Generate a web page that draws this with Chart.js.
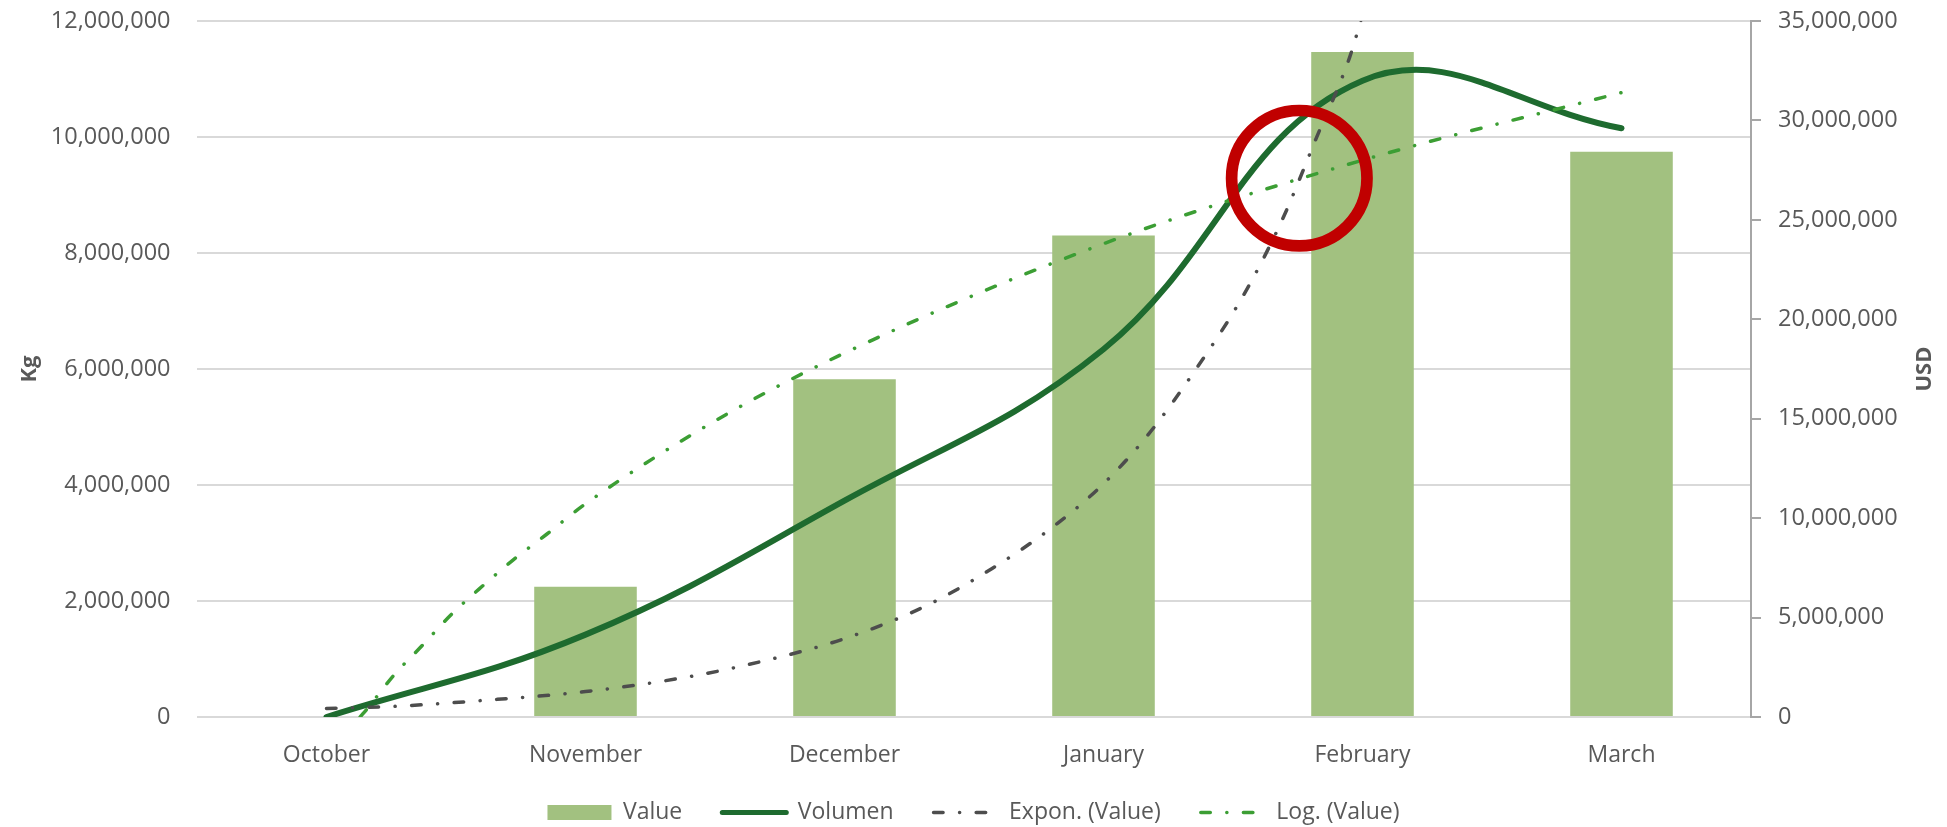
<!DOCTYPE html>
<html>
<head>
<meta charset="utf-8">
<script src="https://cdn.jsdelivr.net/npm/chart.js@4.4.1/dist/chart.umd.min.js"></script>
<style>
html, body { margin: 0; padding: 0; background: #ffffff; }
#wrap { width: 1947px; height: 827px; }
</style>
</head>
<body>
<div id="wrap"><canvas id="c" width="1947" height="827"></canvas></div>
<script>
// ---- data ----
const categories = ['October', 'November', 'December', 'January', 'February', 'March'];
const valueUSD   = [0, 6550000, 16980000, 24210000, 33440000, 28420000];
const volumenKg  = [0, 1420000, 3730000, 6340000, 10970000, 10150000];

// trendlines (position along the category axis, value in USD)
const exponPos = [0, 0.27, 0.6, 1, 1.41, 1.72, 2, 2.31, 2.57, 2.82, 3, 3.17, 3.36, 3.54, 3.69, 3.82, 3.95, 4.0];
const exponUSD = [430000, 540000, 830000, 1280000, 2050000, 2920000, 3940000, 5560000, 7470000, 9710000,
                  11730000, 14160000, 17550000, 21200000, 25000000, 29060000, 33160000, 35300000];
const logPos = [0.13, 0.16, 0.26, 0.37, 0.48, 0.6, 0.72, 0.85, 1, 1.5, 2, 3, 4, 5];
const logUSD = [0, 460000, 2100000, 3600000, 5130000, 6560000, 7890000, 9190000, 10720000,
                14890000, 18300000, 23800000, 28000000, 31400000];

// highlight ring (category position, Kg value)
const ringPos = [3.756];
const ringKg  = [9290000];

const kgMax = 12000000, kgStep = 2000000;
const usdMax = 35000000, usdStep = 5000000;

// ---- styling ----
const FONT = "'Open Sans', 'DejaVu Sans', sans-serif";
const TXT = '#595959';

const catIndex = categories.map((c, i) => i);
const pairs = (xs, ys) => xs.map((x, i) => ({ x: x, y: ys[i] }));
const fmt = v => Number(v).toLocaleString('en-US');

const rightTitle = {
  id: 'rightTitle',
  afterDraw(chart) {
    const s = chart.scales.y1;
    const ctx = chart.ctx;
    ctx.save();
    ctx.translate(s.right - 22, (chart.chartArea.top + chart.chartArea.bottom) / 2);
    ctx.rotate(-Math.PI / 2);
    ctx.font = "bold 22px " + FONT;
    ctx.fillStyle = TXT;
    ctx.textAlign = 'center';
    ctx.textBaseline = 'middle';
    ctx.fillText('USD', 0, 0);
    ctx.restore();
  }
};

const chart = new Chart(document.getElementById('c'), {
  type: 'bar',
  data: {
    datasets: [
      {
        type: 'bar', label: 'Value', data: pairs(catIndex, valueUSD),
        xAxisID: 'x', yAxisID: 'y1',
        backgroundColor: '#A2C180', borderWidth: 0,
        barPercentage: 0.396, categoryPercentage: 1.0, grouped: false,
        order: 4
      },
      {
        type: 'line', label: 'Volumen', data: pairs(catIndex, volumenKg),
        xAxisID: 'x', yAxisID: 'y',
        borderColor: '#1E6B2F', backgroundColor: '#1E6B2F', borderWidth: 6,
        borderCapStyle: 'round', tension: 0.4, pointRadius: 0, fill: false,
        order: 3
      },
      {
        type: 'line', label: 'Expon. (Value)', data: pairs(exponPos, exponUSD),
        xAxisID: 'x', yAxisID: 'y1',
        borderColor: '#4D4D4D', backgroundColor: '#4D4D4D', borderWidth: 3.5,
        borderDash: [9.5, 16.5, 0.1, 16.5], borderCapStyle: 'round',
        cubicInterpolationMode: 'monotone', pointRadius: 0, fill: false,
        order: 1
      },
      {
        type: 'line', label: 'Log. (Value)', data: pairs(logPos, logUSD),
        xAxisID: 'x', yAxisID: 'y1',
        borderColor: '#3C9E34', backgroundColor: '#3C9E34', borderWidth: 3.5,
        borderDash: [9.5, 16.5, 0.1, 16.5], borderCapStyle: 'round',
        cubicInterpolationMode: 'monotone', pointRadius: 0, fill: false,
        order: 2
      },
      {
        type: 'line', label: 'ring', data: pairs(ringPos, ringKg),
        xAxisID: 'x', yAxisID: 'y', showLine: false,
        pointRadius: 67.7, pointBorderWidth: 11.7,
        pointBackgroundColor: 'rgba(0,0,0,0)', pointBorderColor: '#C00000',
        order: 0
      }
    ]
  },
  options: {
    responsive: false,
    animation: false,
    events: [],
    layout: { autoPadding: false, padding: { top: 21, bottom: -7, left: 0, right: 0 } },
    scales: {
      x: {
        type: 'linear', position: 'bottom', offset: false,
        min: -0.5, max: 5.5,
        grid: { display: false }, border: { display: false },
        afterBuildTicks(s) { s.ticks = catIndex.map(i => ({ value: i })); },
        ticks: {
          color: TXT, font: { family: FONT, size: 23 }, padding: 16.5, maxRotation: 0, autoSkip: false,
          callback: v => categories[v]
        },
        afterFit(s) { s.height = 44; s._computeLabelArea = function () { return undefined; }; }
      },
      y: {
        type: 'linear', position: 'left', min: 0, max: kgMax,
        ticks: { stepSize: kgStep, color: TXT, font: { family: FONT, size: 23.5, lineHeight: 0.2 }, padding: 0, callback: v => fmt(v) },
        grid: { color: '#D9D9D9', lineWidth: 2, drawTicks: true, tickLength: 26.5, tickColor: 'rgba(0,0,0,0)' },
        border: { display: false },
        title: { display: true, text: 'Kg', color: TXT, font: { family: FONT, size: 22, weight: 'bold' }, padding: { top: 17, bottom: 0 } },
        afterFit(s) { s.width = 197; }
      },
      y1: {
        type: 'linear', position: 'right', min: 0, max: usdMax,
        ticks: { stepSize: usdStep, color: TXT, font: { family: FONT, size: 23.5, lineHeight: 0.2 }, padding: 17, callback: v => fmt(v) },
        grid: { drawOnChartArea: false, drawTicks: true, tickLength: 10, color: '#A6A6A6', lineWidth: 2 },
        border: { display: true, color: '#A6A6A6', width: 2 },
        afterFit(s) { s.width = 196; }
      }
    },
    plugins: {
      tooltip: { enabled: false },
      title: { display: false },
      legend: {
        display: true, position: 'bottom', align: 'center',
        labels: {
          color: TXT, font: { family: FONT, size: 23 },
          usePointStyle: true, pointStyleWidth: 64, boxHeight: 15, padding: 40,
          filter: it => it.text !== 'ring',
          sort: (a, b) => a.datasetIndex - b.datasetIndex,
          generateLabels(ch) {
            const items = Chart.defaults.plugins.legend.labels.generateLabels(ch);
            items.forEach(it => {
              const ds = ch.data.datasets[it.datasetIndex];
              if (ds.type === 'line') {
                it.pointStyle = 'line';
                it.strokeStyle = ds.borderColor;
                it.lineWidth = ds.label === 'Volumen' ? 5 : 3.5;
                it.lineDash = ds.borderDash || [];
                it.lineCap = 'round';
              } else {
                it.pointStyle = 'rect';
                it.fillStyle = ds.backgroundColor;
                it.strokeStyle = ds.backgroundColor;
                it.lineWidth = 0;
              }
            });
            return items;
          }
        }
      }
    }
  },
  plugins: [rightTitle]
});
</script>
</body>
</html>
